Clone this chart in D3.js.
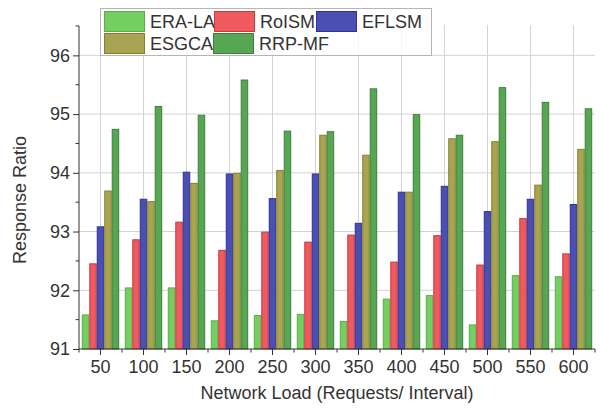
<!DOCTYPE html>
<html>
<head>
<meta charset="UTF-8">
<script src="https://d3js.org/d3.v7.min.js"></script>
<style>
  body { margin: 0; background: #fff; font-family: "Liberation Sans", Arial, sans-serif; }
  .axis text { font-size: 18px; fill: #333; font-family: "Liberation Sans", Arial, sans-serif; }
  .axis path, .axis line { stroke: #333; }
</style>
</head>
<body>
<div id="chart"></div>
<script>
const loads = ["50", "100", "150", "200", "250", "300", "350", "400", "450", "500", "550", "600"];
const seriesNames = ["ERA-LA", "RoISM", "EFLSM", "ESGCA", "RRP-MF"];
const eraLA = [91.58, 92.04, 92.04, 91.48, 91.57, 91.59, 91.47, 91.85, 91.91, 91.41, 92.25, 92.23];
const roISM = [92.45, 92.86, 93.16, 92.68, 92.99, 92.82, 92.94, 92.48, 92.93, 92.43, 93.22, 92.62];
const eflsm = [93.08, 93.55, 94.01, 93.98, 93.56, 93.98, 93.14, 93.67, 93.77, 93.34, 93.55, 93.46];
const esgca = [93.69, 93.51, 93.82, 93.99, 94.04, 94.64, 94.30, 93.67, 94.58, 94.53, 93.79, 94.40];
const rrpMF = [94.74, 95.13, 94.98, 95.58, 94.71, 94.70, 95.43, 94.99, 94.64, 95.45, 95.20, 95.09];
const yTicks = [91, 92, 93, 94, 95, 96];

const fills = ["#74cf60", "#ee5a5e", "#4b4fb4", "#a9a452", "#56a653"];
const strokes = ["#5aae48", "#c8393e", "#2f3290", "#85802f", "#3b8038"];

const allSeries = [eraLA, roISM, eflsm, esgca, rrpMF];
const data = loads.map((l, i) => ({ load: l, values: allSeries.map((s, k) => ({ key: k, v: s[i] })) }));

const W = 602, H = 410;
const pLeft = 79, pRight = 595, pTop = 26, pBottom = 349;

const svg = d3.select("#chart").append("svg").attr("width", W).attr("height", H);

const x0 = d3.scaleBand().domain(loads).range([pLeft, pRight]).padding(0);
const bw = x0.bandwidth();
const x1 = d3.scaleBand().domain(d3.range(5)).range([bw * 0.065, bw * 0.935]).padding(0);
const y = d3.scaleLinear().domain([91, 96.5]).range([pBottom, pTop]);

// grid
svg.append("g").selectAll("line").data(yTicks.slice(1)).enter().append("line")
  .attr("x1", pLeft).attr("x2", pRight)
  .attr("y1", d => y(d)).attr("y2", d => y(d))
  .attr("stroke", "#d2d2d2").attr("stroke-width", 1);
svg.append("g").selectAll("line").data(loads).enter().append("line")
  .attr("x1", d => x0(d) + bw / 2).attr("x2", d => x0(d) + bw / 2)
  .attr("y1", pTop - 1).attr("y2", pBottom)
  .attr("stroke", "#d2d2d2").attr("stroke-width", 1);

// bars
const groups = svg.append("g").selectAll("g").data(data).enter().append("g")
  .attr("transform", d => `translate(${x0(d.load)},0)`);
groups.selectAll("rect").data(d => d.values).enter().append("rect")
  .attr("x", d => x1(d.key) + 0.5)
  .attr("y", d => y(d.v))
  .attr("width", x1.bandwidth() - 1)
  .attr("height", d => y(91) - y(d.v))
  .attr("fill", d => fills[d.key])
  .attr("stroke", d => strokes[d.key])
  .attr("stroke-width", 1);

// y axis
const yAxis = svg.append("g").attr("class", "axis").attr("transform", `translate(${pLeft},0)`)
  .call(d3.axisLeft(y).tickValues(yTicks).tickFormat(d3.format("d")).tickSize(6).tickPadding(3));
yAxis.select(".domain").attr("d", `M0,${pBottom}V${pTop}`);
svg.append("g").selectAll("line").data(d3.range(91.5, 96.6, 1)).enter().append("line")
  .attr("x1", pLeft - 3.5).attr("x2", pLeft)
  .attr("y1", d => y(d)).attr("y2", d => y(d))
  .attr("stroke", "#333");

// x axis
const xAxis = svg.append("g").attr("class", "axis").attr("transform", `translate(0,${pBottom})`)
  .call(d3.axisBottom(x0).tickSize(6).tickPadding(5));
xAxis.select(".domain").attr("d", `M${pLeft},0H${pRight}`);
svg.append("g").selectAll("line").data(loads.concat(["end"])).enter().append("line")
  .attr("x1", (d, i) => pLeft + i * bw).attr("x2", (d, i) => pLeft + i * bw)
  .attr("y1", pBottom).attr("y2", pBottom + 3.5)
  .attr("stroke", "#333");

// titles
svg.append("text").attr("x", (pLeft + pRight) / 2).attr("y", 399)
  .attr("text-anchor", "middle").attr("font-size", 18).attr("fill", "#333")
  .text("Network Load (Requests/ Interval)");
svg.append("text").attr("transform", "translate(26,200) rotate(-90)")
  .attr("text-anchor", "middle").attr("font-size", 18).attr("fill", "#333")
  .text("Response Ratio");

// legend
const lg = svg.append("g");
lg.append("rect").attr("x", 100.5).attr("y", 8.5).attr("width", 331).attr("height", 47)
  .attr("fill", "#fff").attr("fill-opacity", 0.75).attr("stroke", "#b5b5b5");
const legendPos = [[104, 11], [214, 11], [316, 11], [104, 33], [213, 33]];
seriesNames.forEach((name, k) => {
  const [lx, ly] = legendPos[k];
  lg.append("rect").attr("x", lx + 0.5).attr("y", ly + 0.5).attr("width", 40).attr("height", 20)
    .attr("fill", fills[k]).attr("stroke", strokes[k]).attr("stroke-width", 1);
  lg.append("text").attr("x", lx + 46).attr("y", ly + 17)
    .attr("font-size", 18).attr("fill", "#333").text(name);
});
</script>
</body>
</html>
